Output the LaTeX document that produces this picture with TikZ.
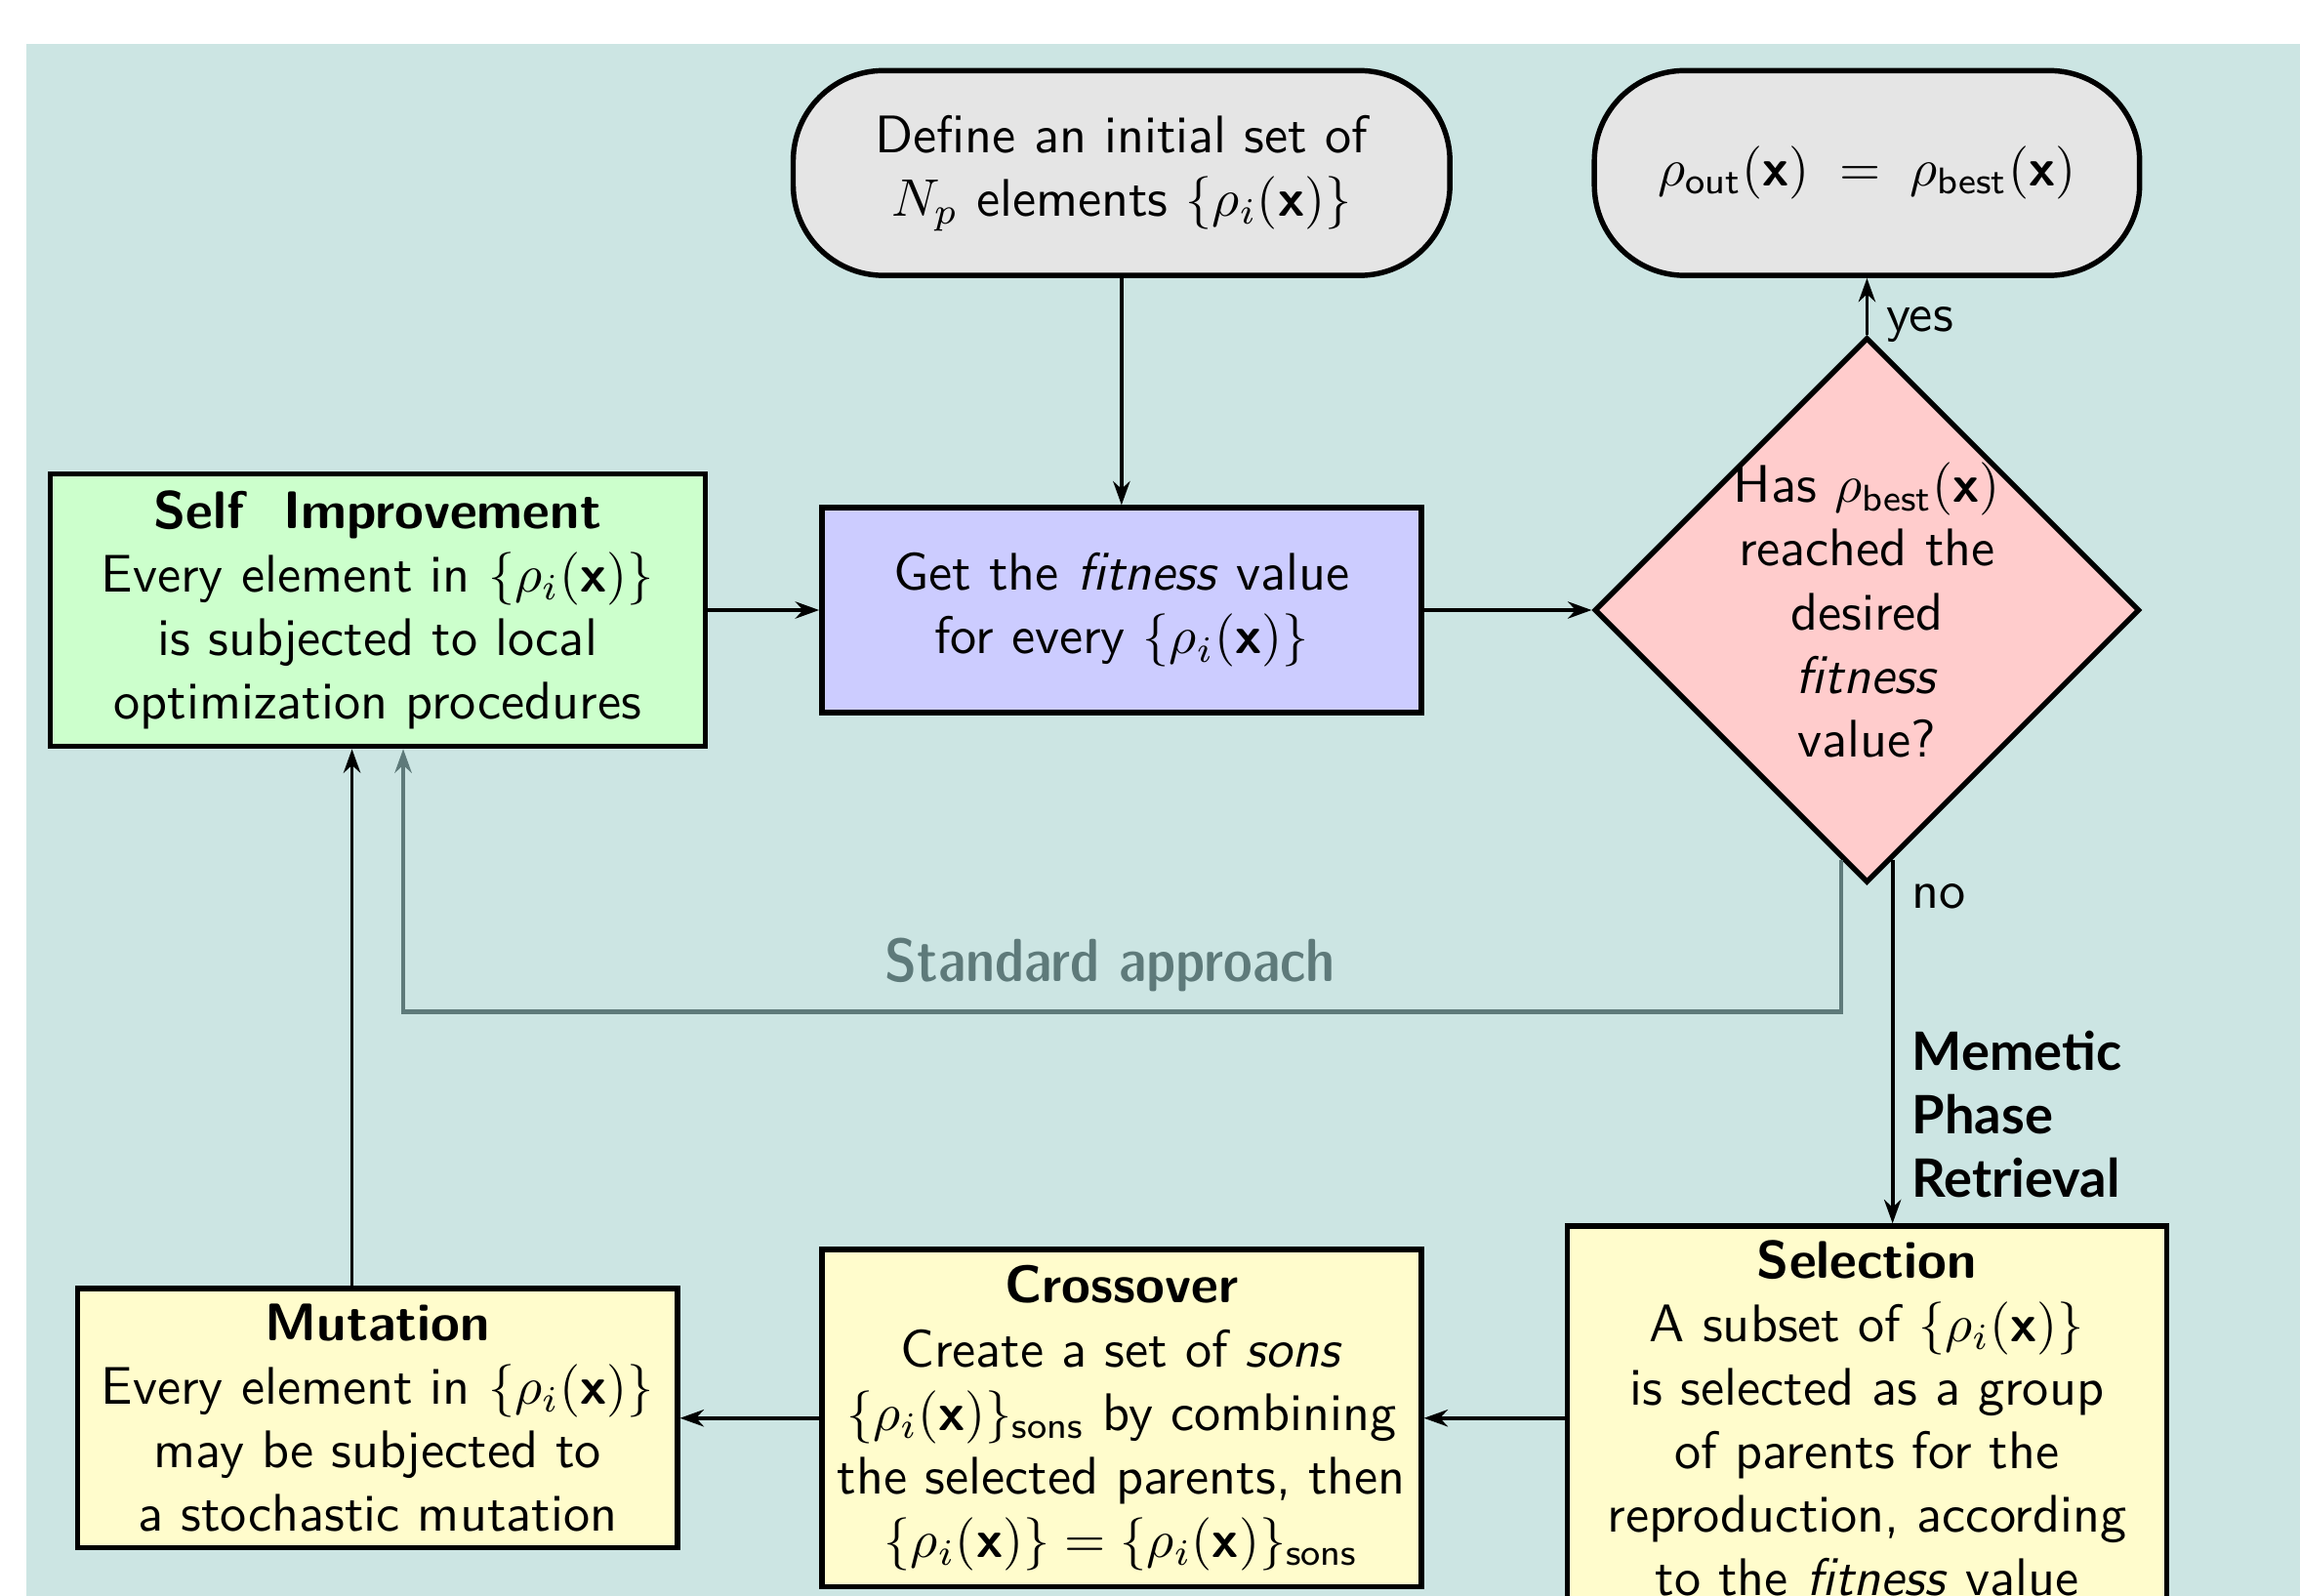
\documentclass[tikz,border=0pt]{standalone}
\usepackage{amsmath}
\usepackage{fontspec}
\usetikzlibrary{arrows.meta, shapes.geometric}
\newfontfamily\latofont{Lato}
\definecolor{bgteal}{HTML}{CCE5E3}
\definecolor{stdgray}{HTML}{5E7A7A}
\newcommand{\vx}{\textbf{x}}
\newcommand{\rhoset}{\{\rho_i(\vx)\}}

\begin{document}
\begin{tikzpicture}[
    every node/.style={font=\sffamily},
    box/.style={rectangle, draw=black, line width=1pt, align=center,
                minimum width=3.98cm, minimum height=1.36cm, inner sep=2pt},
    term/.style={box, fill=gray!20, rounded corners=0.6cm},
    proc/.style={box, fill=yellow!20},
    decision/.style={diamond, aspect=1, draw=black, line width=1pt, fill=red!20,
                minimum size=3.62cm, inner sep=0pt},
    flow/.style={-{Stealth[length=4.5pt, width=3.2pt]}, line width=0.7pt},
    std/.style={flow, stdgray, line width=0.8pt},
]

% ================================================ page and backdrop
\useasboundingbox (0,0) rectangle (15.27,10.594);
\fill[bgteal] (0.175,0) rectangle (15.27,10.302);

% ================================================ start and end
\node[term, minimum width=4.36cm] (init) at (7.446, 9.445)
    {Define an initial set of\\$N_p$ elements $\rhoset$};
\node[term, minimum width=3.62cm] (out) at (12.395, 9.445)
    {$\rho_{\text{out}}(\vx)\;=\;\rho_{\text{best}}(\vx)$};

% ================================================ evaluation
\node[box, fill=green!20, minimum width=4.35cm, minimum height=1.81cm] (self) at (2.507, 6.543)
    {\textbf{Self\ \ Improvement}\\Every element in $\rhoset$\\is subjected to local\\optimization procedures};
\node[box, fill=blue!20] (fit) at (7.446, 6.543)
    {Get the \emph{fitness} value\\for every $\rhoset$};
\node[decision, label={[align=center]center:Has $\rho_{\text{best}}(\vx)$\\reached the\\desired\\\emph{fitness}\\value?}] (dec) at (12.395, 6.543) {};

% ================================================ memetic phase
\node[proc, minimum height=1.72cm] (mut) at (2.507, 1.178)
    {\textbf{Mutation}\\Every element in $\rhoset$\\may be subjected to\\a stochastic mutation};
\node[proc, minimum height=2.24cm] (cross) at (7.446, 1.178)
    {\textbf{Crossover}\\Create a set of \emph{sons}\\$\rhoset_{\text{sons}}$ by combining\\the selected parents, then\\$\rhoset = \rhoset_{\text{sons}}$};
\node[proc, minimum height=2.55cm] (sel) at (12.395, 1.178)
    {\textbf{Selection}\\A subset of $\rhoset$\\is selected as a group\\of parents for the\\reproduction, according\\to the \emph{fitness} value};

% ================================================ connectors
\draw[flow] (init) -- (fit);
\draw[flow] (self) -- (fit);
\draw[flow] (fit) -- (dec);
\draw[flow] (dec) -- node[right, pos=0.18] {yes} (out);

\coordinate (nostart) at ([shift={(0.17,0.17)}]dec.south);
\coordinate (stdstart) at ([shift={(-0.17,0.17)}]dec.south);
\coordinate (stdturn) at (0, 3.875);

\draw[flow] (nostart) -- node[right, pos=0.1] {no}
    node[right, pos=0.7, align=left, font=\latofont\bfseries] {Memetic\\Phase\\Retrieval}
    ([xshift=0.17cm]sel.north);
\draw[flow] (sel) -- (cross);
\draw[flow] (cross) -- (mut);
\draw[flow] ([xshift=-0.17cm]mut.north) -- ([xshift=-0.17cm]self.south);

% the plain loop, without the memetic phase
\draw[std] (stdstart) -- (stdstart |- stdturn)
    -| node[pos=0.25, above, xshift=-0.08cm,
            font=\sffamily\fontsize{11.5}{14}\fontseries{sbc}\selectfont] {Standard approach}
    ([xshift=0.17cm]self.south);

\end{tikzpicture}
\end{document}
